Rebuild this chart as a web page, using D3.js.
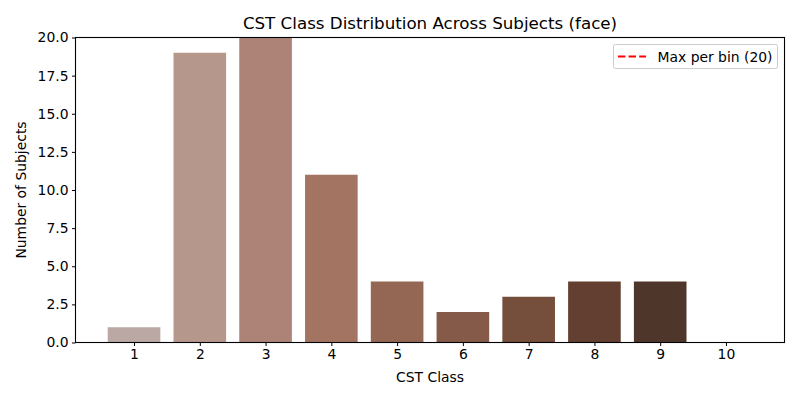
<!DOCTYPE html>
<html><head><meta charset="utf-8">
<script src="https://cdn.jsdelivr.net/npm/d3@7"></script>
<style>body{margin:0;background:#fff}svg text{font-family:"DejaVu Sans",sans-serif;fill:#000}</style>
</head><body><svg id="c" width="800" height="400"></svg>
<script>
const categories = [1,2,3,4,5,6,7,8,9,10];
const counts = [1,19,20,11,4,2,3,4,4,0];
const barColors = ["#bba8a4","#b6978c","#ad8377","#a37462","#946754","#855a48","#764e3c","#633f31","#4e362b","#3b2a22"];
const yTicks = [0,2.5,5,7.5,10,12.5,15,17.5,20];
const maxPerBin = 20;

const svg = d3.select("#c");
const L=75.5,R=784.5,T=37.5,B=342.5;
const x = d3.scaleLinear().domain([0.11,10.89]).range([L,R]);
const y = d3.scaleLinear().domain([0,20]).range([B,T]);
const bw = x(0.8)-x(0);

svg.append("g").selectAll("rect").data(categories).join("rect")
  .attr("x",(d)=>x(d-0.4)).attr("width",bw)
  .attr("y",(d,i)=>y(counts[i])).attr("height",(d,i)=>B-y(counts[i]))
  .attr("fill",(d,i)=>barColors[i]);

svg.append("line").attr("x1",L).attr("x2",R).attr("y1",y(maxPerBin)).attr("y2",y(maxPerBin))
  .attr("stroke","red").attr("stroke-width",1).attr("stroke-dasharray","7.4,3.2");

svg.append("rect").attr("x",L).attr("y",T).attr("width",R-L).attr("height",B-T)
  .attr("fill","none").attr("stroke","#000").attr("stroke-width",1.1);

const xa = svg.append("g").attr("transform",`translate(0,${B})`)
  .call(d3.axisBottom(x).tickValues(categories).tickSize(3.5).tickPadding(3.5).tickFormat(d3.format("d")));
const ya = svg.append("g").attr("transform",`translate(${L},0)`)
  .call(d3.axisLeft(y).tickValues(yTicks).tickSize(3.5).tickPadding(3.5).tickFormat(d3.format(".1f")));
[xa,ya].forEach(a=>{a.select(".domain").remove();a.selectAll("text").attr("font-size",13.9).attr("font-family","DejaVu Sans");a.selectAll("line").attr("stroke","#000")});

svg.append("text").attr("x",(L+R)/2).attr("y",29).attr("text-anchor","middle").attr("font-size",16.7).text("CST Class Distribution Across Subjects (face)");
svg.append("text").attr("x",(L+R)/2).attr("y",382).attr("text-anchor","middle").attr("font-size",13.9).text("CST Class");
svg.append("text").attr("transform",`translate(26,${(T+B)/2}) rotate(-90)`).attr("text-anchor","middle").attr("font-size",13.9).text("Number of Subjects");

const lg = svg.append("g");
lg.append("rect").attr("x",613.5).attr("y",44.5).attr("width",164).attr("height",24).attr("rx",2)
  .attr("fill","#fff").attr("fill-opacity",0.8).attr("stroke","#ccc");
lg.append("line").attr("x1",618).attr("x2",646).attr("y1",56.5).attr("y2",56.5)
  .attr("stroke","red").attr("stroke-width",2).attr("stroke-dasharray","7.4,3.2");
lg.append("text").attr("x",657.5).attr("y",61.5).attr("font-size",13.9).text("Max per bin (20)");
</script></body></html>
